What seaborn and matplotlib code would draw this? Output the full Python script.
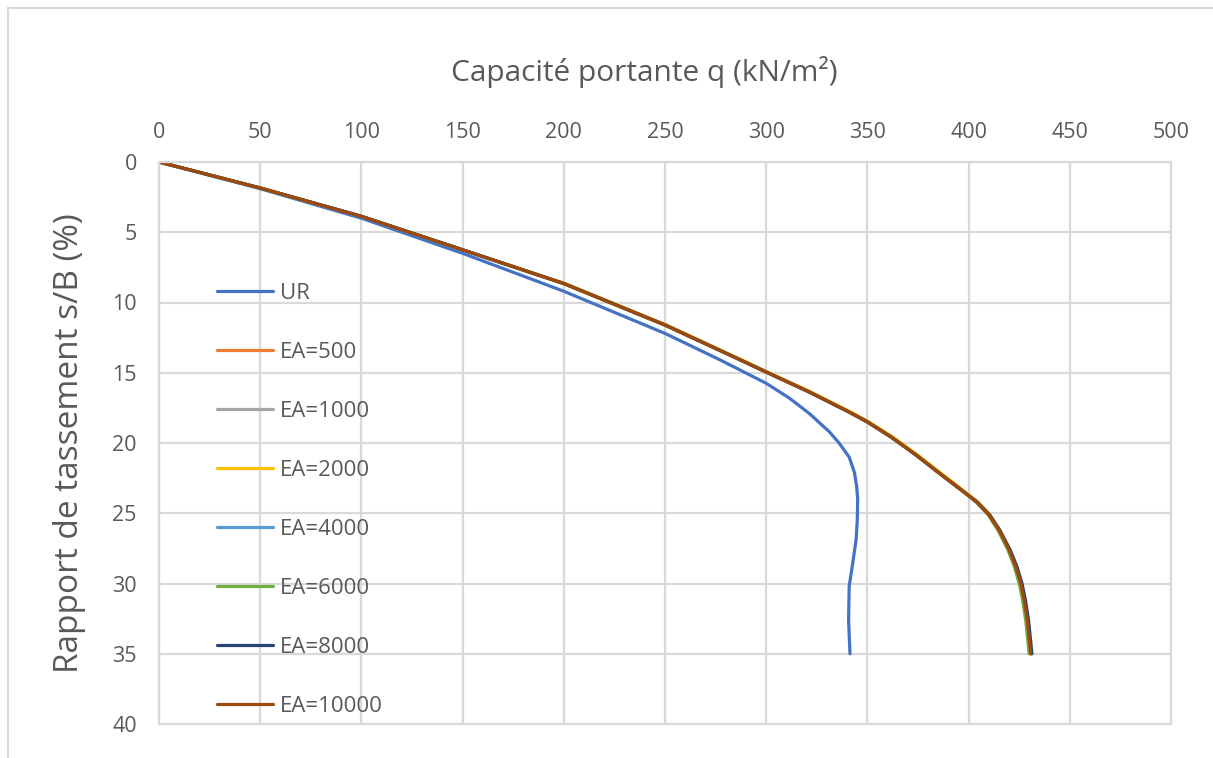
import pandas as pd
import numpy as np
import matplotlib.pyplot as plt
import seaborn as sns
from matplotlib.patches import Rectangle

# Settlement ratio s/B (%) and bearing capacity q (kN/m2)
s_ur = [0, 1.9, 4.0, 6.5, 9.2, 12.2, 14.07, 15.75, 16.8, 17.9, 19.2, 20.0, 21.0, 22.1, 23.1, 24.0, 25.5, 26.9, 28.6, 30.2, 32.6, 35.0]
q_ur = [0, 50, 100, 150, 200, 250, 277, 300, 311.4, 321.3, 331.2, 336, 341, 343.6, 344.7, 345.2, 345.0, 344.4, 342.7, 341.0, 340.7, 341.4]

s_ea = [0, 1.85, 3.87, 6.25, 8.65, 11.6, 14.07, 14.95, 16.35, 17.8, 18.5, 19.6, 20.85, 22.2, 23.3, 24.2, 25.1, 26.2, 27.6, 28.8, 30.0, 31.2, 32.6, 35.0]
q_ea500 = [0, 50, 100, 150, 200, 250, 287, 300, 321, 341, 350, 362, 374, 386, 396, 404, 410, 415, 420, 423.3, 425.8, 427.5, 429.0, 430.7]
q_ea1000 = [0, 50, 100, 150, 200, 250, 287, 300, 321, 341, 350, 362, 374, 386, 396, 404, 410, 415, 420, 423.3, 425.8, 427.5, 429.0, 430.7]
q_ea2000 = [0, 50, 100, 150, 200.6, 250.7, 287.7, 300.7, 321.8, 341.8, 350.8, 362.8, 374.8, 386.8, 396.7, 404.6, 410.5, 415.4, 420.3, 423.5, 425.9, 427.6, 429.0, 430.7]
q_ea4000 = [0, 50, 100, 150, 200, 250, 287, 300, 321, 341, 350, 362, 374, 386, 396, 404, 410, 415, 420, 423.3, 425.8, 427.5, 429.0, 430.7]
q_ea6000 = [0, 50, 100, 150, 200, 250, 287, 300, 321, 341, 350, 362, 374, 386, 396, 403.7, 409.6, 414.5, 419.4, 422.6, 425.0, 426.7, 428.2, 429.9]
q_ea8000 = [0, 50, 100, 150, 200, 250, 287, 300, 321, 341, 350, 362, 374, 386, 396, 404.2, 410.3, 415.4, 420.5, 423.9, 426.4, 428.1, 429.6, 431.3]
q_ea10000 = [0, 50, 100, 150, 200, 250, 287, 300, 321, 341, 350, 362, 374, 386, 396, 404, 410, 415, 420, 423.3, 425.8, 427.5, 429.0, 430.7]

labels = ["UR", "EA=500", "EA=1000", "EA=2000", "EA=4000", "EA=6000", "EA=8000", "EA=10000"]
colors = ["#4472C4", "#ED7D31", "#A5A5A5", "#FFC000", "#5B9BD5", "#70AD47", "#264478", "#9E480E"]

series = [
    (s_ur, q_ur), (s_ea, q_ea500), (s_ea, q_ea1000), (s_ea, q_ea2000),
    (s_ea, q_ea4000), (s_ea, q_ea6000), (s_ea, q_ea8000), (s_ea, q_ea10000),
]

frames = []
for lab, (s, q) in zip(labels, series):
    frames.append(pd.DataFrame({"q": q, "s": s, "serie": lab}))
df = pd.concat(frames, ignore_index=True)

sns.set_style("white")
plt.rcParams["font.family"] = ["Open Sans", "DejaVu Sans"]
text_color = "#595959"
grid_color = "#D9D9D9"

fig = plt.figure(figsize=(12.13, 7.58), dpi=100)
ax = fig.add_axes([159 / 1213, 1 - 724 / 758, (1171 - 159) / 1213, (724 - 162) / 758])

sns.lineplot(data=df, x="q", y="s", hue="serie", hue_order=labels,
             palette=dict(zip(labels, colors)), sort=False, estimator=None,
             units="serie", linewidth=2.3, ax=ax)

ax.set_xlim(0, 500)
ax.set_ylim(40, 0)
ax.set_xticks(np.arange(0, 501, 50))
ax.set_yticks(np.arange(0, 41, 5))
ax.xaxis.tick_top()
ax.xaxis.set_label_position("top")
ax.tick_params(axis="both", length=0, labelsize=15.5, colors=text_color)
ax.tick_params(axis="x", pad=13.5)
ax.tick_params(axis="y", pad=16)
ax.grid(True, color=grid_color, linewidth=1.6)
for sp in ax.spines.values():
    sp.set_color(grid_color)
    sp.set_linewidth(1.6)

ax.set_xlabel("Capacité portante q (kN/m²)", fontsize=21.5, color=text_color, va="center")
ax.xaxis.set_label_coords(0.480, 1.160)
ax.set_ylabel("Rapport de tassement s/B (%)", fontsize=24, color=text_color, va="center")
ax.yaxis.set_label_coords(-0.088, 0.5)

handles, labs = ax.get_legend_handles_labels()
ax.legend(handles, labs, loc="upper left", bbox_to_anchor=(217 / 1213, 1 - 283 / 758),
          bbox_transform=fig.transFigure, frameon=False, fontsize=16,
          labelcolor=text_color, handlelength=2.52, handletextpad=0.32,
          labelspacing=1.71, borderpad=0, borderaxespad=0)

# outer chart frame (only top and left edges visible in the crop)
fig.patches.append(Rectangle((8 / 1213, -0.1), 1.2, 1 - 8 / 758 + 0.1,
                             transform=fig.transFigure, fill=False,
                             edgecolor="#D9D9D9", linewidth=1.5))

fig.savefig("out.png", dpi=100)
